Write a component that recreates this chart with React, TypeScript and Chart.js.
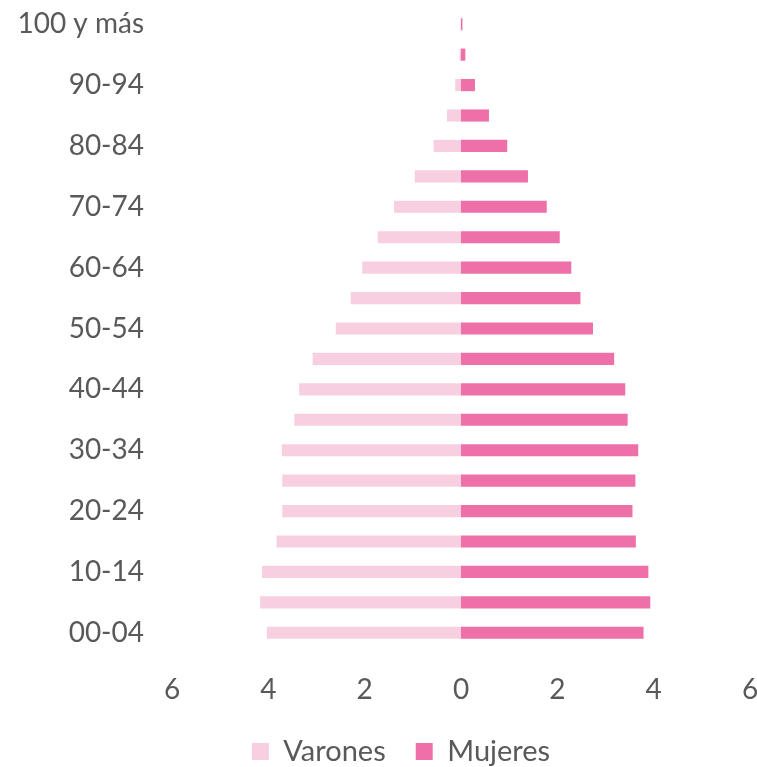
import React, { useEffect, useRef } from "react";
import { Chart, registerables } from "chart.js";

Chart.register(...registerables);

const categories = [
  "00-04", "05-09", "10-14", "15-19", "20-24", "25-29", "30-34", "35-39",
  "40-44", "45-49", "50-54", "55-59", "60-64", "65-69", "70-74", "75-79",
  "80-84", "85-89", "90-94", "95-99", "100 y más",
];

const varones = [
  4.03, 4.17, 4.13, 3.83, 3.71, 3.71, 3.72, 3.46, 3.36, 3.08, 2.6, 2.29,
  2.05, 1.73, 1.39, 0.96, 0.57, 0.29, 0.12, 0.03, 0.01,
];

const mujeres = [
  3.79, 3.93, 3.89, 3.63, 3.56, 3.62, 3.68, 3.46, 3.41, 3.18, 2.74, 2.48,
  2.29, 2.05, 1.78, 1.39, 0.96, 0.58, 0.29, 0.09, 0.03,
];

const xTicks = [-6, -4, -2, 0, 2, 4, 6];

const FONT = "Lato, 'Noto Sans', sans-serif";
const TEXT = "#595959";

export default function App() {
  const ref = useRef<HTMLCanvasElement | null>(null);

  useEffect(() => {
    if (!ref.current) return;
    const legendShift = {
      id: "legendShift",
      afterLayout(chart: any) {
        const l = chart.legend;
        if (l) {
          l.left += 26;
          l.right += 26;
        }
      },
    };
    const chart = new Chart(ref.current, {
      type: "bar",
      data: {
        labels: categories,
        datasets: [
          {
            label: "Varones",
            data: varones.map((v) => -v),
            backgroundColor: "#F8CFE0",
            barPercentage: 0.8,
            categoryPercentage: 0.5,
          },
          {
            label: "Mujeres",
            data: mujeres,
            backgroundColor: "#EE70A8",
            barPercentage: 0.8,
            categoryPercentage: 0.5,
          },
        ],
      },
      options: {
        indexAxis: "y",
        animation: false,
        responsive: false,
        maintainAspectRatio: false,
        layout: { padding: { left: 0, right: 7, top: 9, bottom: -9 } },
        scales: {
          x: {
            stacked: true,
            min: -6,
            max: 6,
            afterBuildTicks(scale: any) {
              scale.ticks = xTicks.map((v) => ({ value: v }));
            },
            afterFit(scale: any) {
              scale.paddingLeft = 0;
              scale.paddingRight = 0;
              scale.height = 59;
            },
            grid: { display: false, drawTicks: false },
            border: { display: false },
            ticks: {
              padding: 25,
              color: TEXT,
              font: { family: FONT, size: 28 },
              callback: (v: any) => String(Math.abs(Number(v))),
            },
          },
          y: {
            stacked: true,
            reverse: true,
            grid: { display: false, drawTicks: false },
            border: { display: false },
            afterFit(scale: any) {
              scale.width = 172;
              scale.paddingTop = 0;
              scale.paddingBottom = 0;
            },
            ticks: {
              autoSkip: false,
              padding: 28,
              color: TEXT,
              font: { family: FONT, size: 28 },
              callback: function (this: any, _v: any, i: number) {
                return i % 2 === 0 ? categories[i] : "";
              },
            },
          },
        },
        plugins: {
          legend: {
            position: "bottom",
            labels: {
              color: TEXT,
              font: { family: FONT, size: 29 },
              boxWidth: 17,
              boxHeight: 17,
              padding: 30,
            },
          },
          tooltip: { enabled: false },
        },
      },
      plugins: [legendShift],
    });
    return () => chart.destroy();
  }, []);

  return (
    <div style={{ position: "fixed", left: 0, top: 0, width: 757, height: 767, background: "#fff" }}>
      <canvas ref={ref} width={757} height={767} style={{ display: "block" }} />
    </div>
  );
}
